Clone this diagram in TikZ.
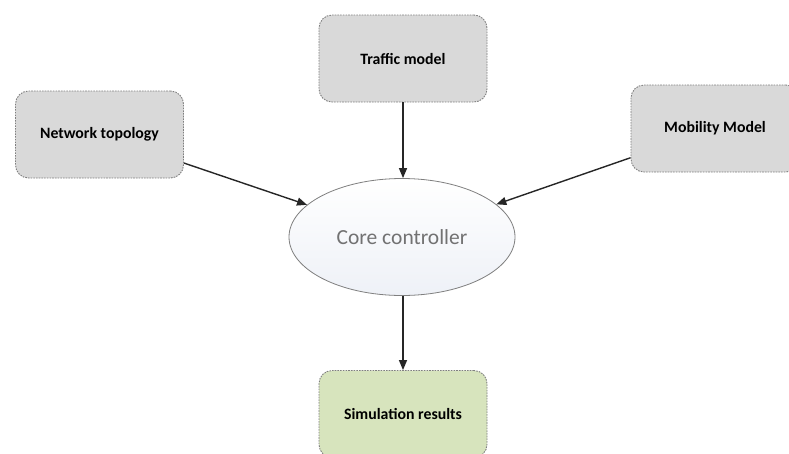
\documentclass[tikz,border=0pt]{standalone}
\usepackage{fontspec}
\setmainfont{Carlito}
\usetikzlibrary{arrows.meta,shapes.geometric}
\definecolor{boxgray}{HTML}{D9D9D9}
\definecolor{boxgreen}{HTML}{D7E4BD}
\definecolor{ringgray}{HTML}{7F7F7F}
\definecolor{corefill}{HTML}{EEF1F7}
\tikzset{
  inbox/.style={draw=ringgray,line width=0.9pt,dash pattern=on 1.6pt off 1.1pt,
    rounded corners=13pt,fill=boxgray,font=\bfseries\fontsize{15.8}{18}\selectfont,
    minimum width=168pt,minimum height=87pt,inner sep=0pt},
  corenode/.style={ellipse,draw=ringgray,line width=0.8pt,
    top color=white,bottom color=corefill,
    minimum width=226pt,minimum height=117pt,inner sep=0pt,
    text=ringgray!90!black,font=\fontsize{21.5}{24}\selectfont},
  flow/.style={-{Triangle[length=10pt,width=8pt]},line width=1.4pt,black!85}
}
\begin{document}
\begin{tikzpicture}[x=1pt,y=-1pt]
\useasboundingbox (0,0) rectangle (789,453);
\clip (0,0) rectangle (789,453);
% input blocks
\node[inbox] (net) at (99.5,134.5) {Network topology};
\node[inbox] (traffic) at (403,58.5) {Traffic model};
\node[inbox] (mobility) at (715,128.5) {Mobility Model};
% controller and output
\node[corenode] (core) at (402,237) {Core controller};
\node[inbox,fill=boxgreen] (sim) at (403,414) {Simulation results};
\draw[flow] (net) -- (core);
\draw[flow] (traffic) -- (traffic |- core.north);
\draw[flow] (mobility) -- (core);
\draw[flow] (core.south -| sim) -- (sim);
\end{tikzpicture}
\end{document}
